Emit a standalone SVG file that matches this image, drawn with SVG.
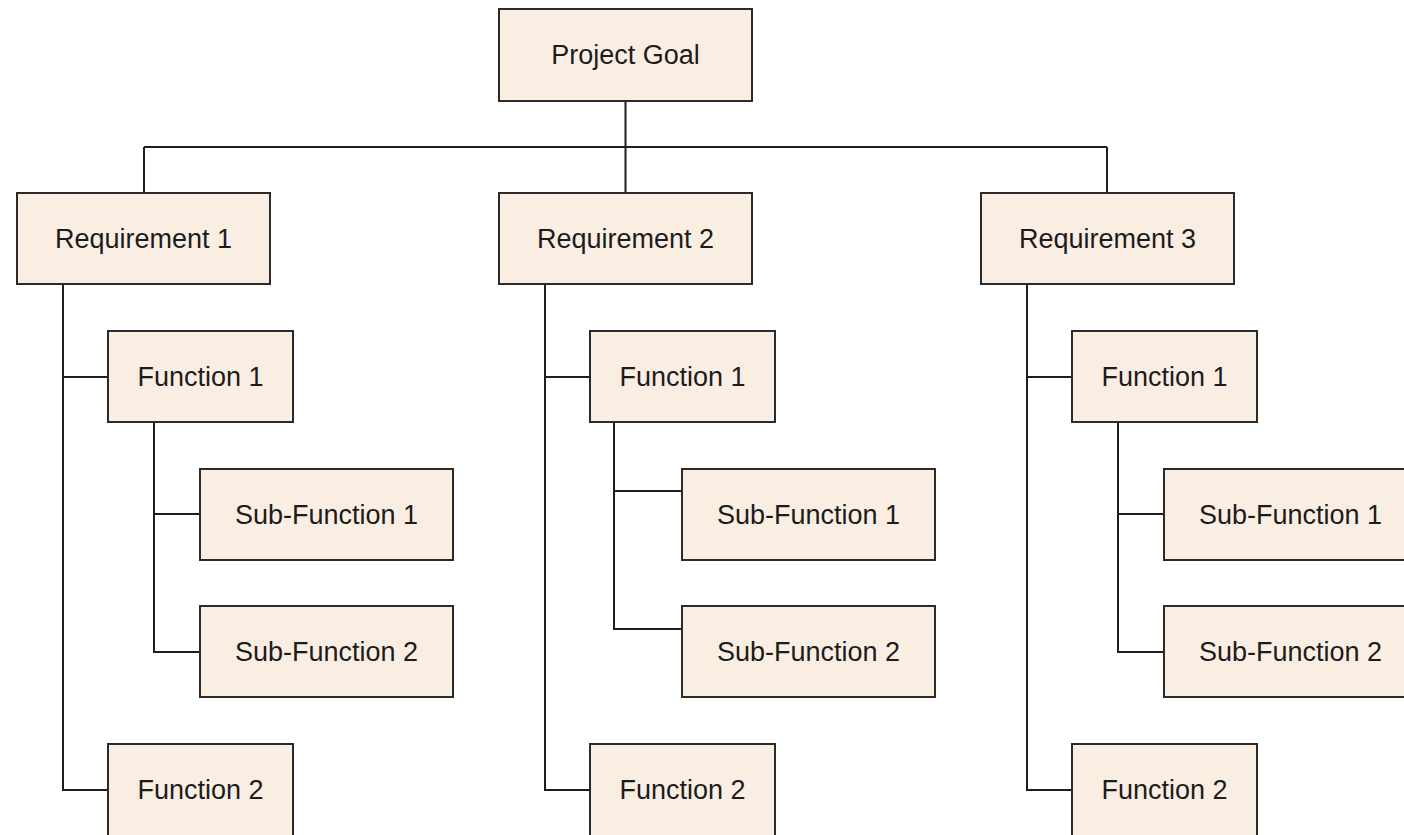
<svg xmlns="http://www.w3.org/2000/svg" width="1404" height="835" viewBox="0 0 1404 835">
  <style>
    .box { fill: #faeee3; stroke: #2b2b2b; stroke-width: 2; }
    .lbl { font-family: "Liberation Sans", Arial, sans-serif; font-size: 27px; fill: #1c1c1c; text-anchor: middle; dominant-baseline: central; }
    .wire { fill: none; stroke: #1e1e1e; stroke-width: 2; }
  </style>
  <rect width="1404" height="835" fill="#ffffff"/>

  <!-- connectors -->
  <g id="connectors" class="wire">
    <path d="M625.5 101 V193 M144 147 H1107 M144 147 V193 M1107 147 V193"/>
    <!-- requirement 1 -->
    <path d="M63 284 V790 H108 M63 377 H108"/>
    <path d="M154 422 V652 H200 M154 514 H200"/>
    <!-- requirement 2 -->
    <path d="M545 284 V790 H590 M545 377 H590"/>
    <path d="M614 422 V629 H682 M614 491 H682"/>
    <!-- requirement 3 -->
    <path d="M1027 284 V790 H1072 M1027 377 H1072"/>
    <path d="M1118 422 V652 H1164 M1118 514 H1164"/>
  </g>

  <g id="goal"><rect class="box" x="499" y="9" width="253" height="92"/><text class="lbl" x="625.5" y="55">Project Goal</text></g>

  <g id="req1"><rect class="box" x="17" y="193" width="253" height="91"/><text class="lbl" x="143.5" y="238.5">Requirement 1</text></g>
  <g id="req1-f1"><rect class="box" x="108" y="331" width="185" height="91"/><text class="lbl" x="200.5" y="376.5">Function 1</text></g>
  <g id="req1-sf1"><rect class="box" x="200" y="469" width="253" height="91"/><text class="lbl" x="326.5" y="514.5">Sub-Function 1</text></g>
  <g id="req1-sf2"><rect class="box" x="200" y="606" width="253" height="91"/><text class="lbl" x="326.5" y="651.5">Sub-Function 2</text></g>
  <g id="req1-f2"><rect class="box" x="108" y="744" width="185" height="100"/><text class="lbl" x="200.5" y="790">Function 2</text></g>

  <g id="req2"><rect class="box" x="499" y="193" width="253" height="91"/><text class="lbl" x="625.5" y="238.5">Requirement 2</text></g>
  <g id="req2-f1"><rect class="box" x="590" y="331" width="185" height="91"/><text class="lbl" x="682.5" y="376.5">Function 1</text></g>
  <g id="req2-sf1"><rect class="box" x="682" y="469" width="253" height="91"/><text class="lbl" x="808.5" y="514.5">Sub-Function 1</text></g>
  <g id="req2-sf2"><rect class="box" x="682" y="606" width="253" height="91"/><text class="lbl" x="808.5" y="651.5">Sub-Function 2</text></g>
  <g id="req2-f2"><rect class="box" x="590" y="744" width="185" height="100"/><text class="lbl" x="682.5" y="790">Function 2</text></g>

  <g id="req3"><rect class="box" x="981" y="193" width="253" height="91"/><text class="lbl" x="1107.5" y="238.5">Requirement 3</text></g>
  <g id="req3-f1"><rect class="box" x="1072" y="331" width="185" height="91"/><text class="lbl" x="1164.5" y="376.5">Function 1</text></g>
  <g id="req3-sf1"><rect class="box" x="1164" y="469" width="253" height="91"/><text class="lbl" x="1290.5" y="514.5">Sub-Function 1</text></g>
  <g id="req3-sf2"><rect class="box" x="1164" y="606" width="253" height="91"/><text class="lbl" x="1290.5" y="651.5">Sub-Function 2</text></g>
  <g id="req3-f2"><rect class="box" x="1072" y="744" width="185" height="100"/><text class="lbl" x="1164.5" y="790">Function 2</text></g>
</svg>
